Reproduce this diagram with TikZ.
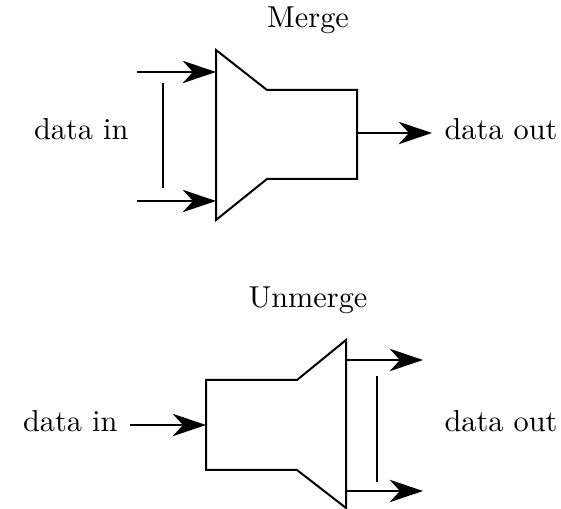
\documentclass[tikz,border=0pt]{standalone}
\usetikzlibrary{arrows.meta}
\begin{document}
\begin{tikzpicture}[x=0.33pt,y=-0.33pt,
  wire/.style={line width=0.66pt},
  flow/.style={wire,-{Stealth[length=11pt,width=7.4pt,inset=3.4pt]}},
  lbl/.style={font=\fontsize{10}{12}\selectfont,inner sep=0pt}]
\useasboundingbox (0,0) rectangle (561,509);

% Merge block
\draw[wire] (216,50) -- (267,90) -- (357,90) -- (357,179) -- (267,179) -- (216,220) -- cycle;
\coordinate (min1) at (216,72);
\coordinate (min2) at (216,201);
\coordinate (mout) at (357,133);
\coordinate (mend) at (432,133);
\coordinate (s1) at (137,72);
\coordinate (s2) at (137,201);
\coordinate (b1) at (163,83);
\coordinate (b2) at (163,188);
\node[lbl] (mtitle) at (308,20) {Merge};
\node[lbl,anchor=mid east] (mdin) at (129,133) {data in};
\node[lbl,anchor=mid west] (mdout) at (444,133) {data out};
\draw[flow] (s1) -- (min1);
\draw[flow] (s2) -- (min2);
\draw[wire] (b1) -- (b2);
\draw[flow] (mout) -- (mend);

% Unmerge block
\draw[wire] (346,340) -- (297,380) -- (206,380) -- (206,470) -- (297,470) -- (346,508) -- cycle;
\coordinate (ustart) at (130,425);
\coordinate (uin) at (206,425);
\coordinate (uo1) at (346,360);
\coordinate (uo2) at (346,491);
\coordinate (t1) at (423,360);
\coordinate (t2) at (423,491);
\coordinate (c1) at (377,376);
\coordinate (c2) at (377,482);
\node[lbl] (utitle) at (308,300) {Unmerge};
\node[lbl,anchor=mid east] (udin) at (118,425) {data in};
\node[lbl,anchor=mid west] (udout) at (444,425) {data out};
\draw[flow] (ustart) -- (uin);
\draw[flow] (uo1) -- (t1);
\draw[flow] (uo2) -- (t2);
\draw[wire] (c1) -- (c2);
\end{tikzpicture}
\end{document}
